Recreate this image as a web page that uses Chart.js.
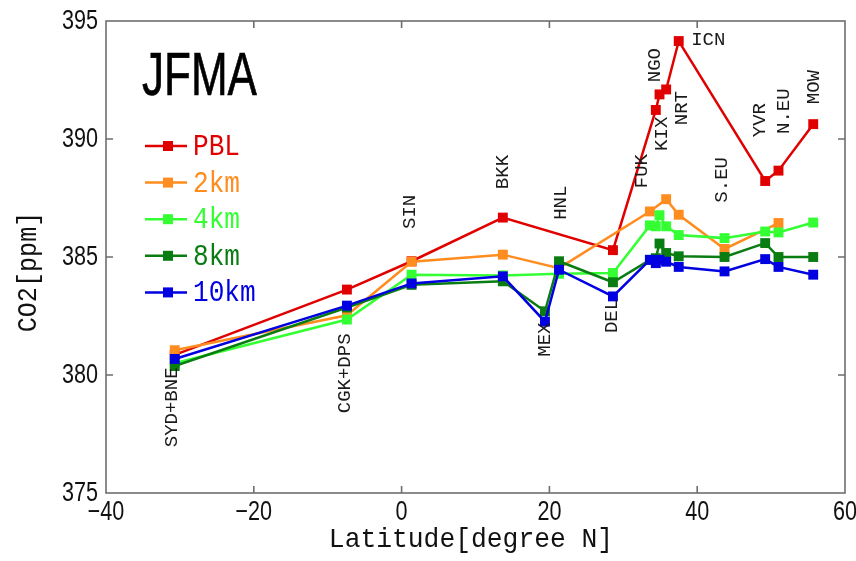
<!DOCTYPE html>
<html>
<head>
<meta charset="utf-8">
<script src="https://cdn.jsdelivr.net/npm/chart.js@4/dist/chart.umd.min.js"></script>
<style>
  html, body { margin: 0; padding: 0; background: #fff; }
  #wrap { width: 856px; height: 561px; }
</style>
</head>
<body>
<div id="wrap"><canvas id="co2Chart" width="856" height="561"></canvas></div>
<script>
// sampling sites and their latitude (deg N)
const stations = ['SYD+BNE', 'CGK+DPS', 'SIN', 'BKK', 'MEX', 'HNL', 'DEL', 'FUK', 'KIX', 'NGO', 'NRT', 'ICN', 'S.EU', 'YVR', 'N.EU', 'MOW'];
const latitudes = [-30.7, -7.4, 1.35, 13.7, 19.4, 21.3, 28.6, 33.6, 34.4, 34.9, 35.8, 37.5, 43.7, 49.2, 51.0, 55.7];

// mean CO2 [ppm] per altitude band, null where no data
const pbl   = [380.85, 383.62, 384.82, 386.67, null, null, 385.29, null, 391.23, 391.89, 392.1, 394.15, null, 388.22, 388.66, 390.63];
const km2   = [381.05, 382.53, 384.8, 385.1, null, 384.53, null, 386.93, null, null, 387.45, 386.79, 385.34, null, 386.44, null];
const km4   = [380.5, 382.35, 384.25, 384.22, null, 384.29, 384.32, 386.34, 386.3, 386.77, 386.3, 385.93, 385.8, 386.08, 386.04, 386.46];
const km8   = [380.38, 382.86, 383.82, 383.97, 382.7, 384.82, 383.93, 384.88, 384.95, 385.57, 385.17, 385.03, 385.0, 385.59, 385.0, 385.0];
const km10  = [380.68, 382.94, 383.88, 384.18, 382.26, 384.46, 383.33, 384.88, 384.74, 384.88, 384.8, 384.58, 384.39, 384.91, 384.58, 384.25];

const seriesNames = ['PBL', '2km', '4km', '8km', '10km'];
const xTicks = [-40, -20, 0, 20, 40, 60];
const xTickLabels = ['\u221240', '\u221220', '0', '20', '40', '60'];
const yTicks = [375, 380, 385, 390, 395];
const yTickLabels = ['375', '380', '385', '390', '395'];

// where each site name sits (lat, ppm) and whether it is turned upright
const labelAt = {
  'SYD+BNE': [-31.1, 378.63, true], 'CGK+DPS': [-7.66, 380.07, true], 'SIN': [1.14, 386.91, true],
  'BKK': [13.72, 388.6, true], 'MEX': [19.4, 381.5, true], 'HNL': [21.57, 387.3, true],
  'DEL': [28.47, 382.5, true], 'FUK': [32.5, 388.64, true], 'KIX': [35.2, 390.22, true],
  'NGO': [34.3, 393.13, true], 'NRT': [37.9, 391.31, true], 'ICN': [41.5, 394.18, false],
  'S.EU': [43.4, 388.27, true], 'YVR': [48.5, 390.8, true], 'N.EU': [51.7, 391.18, true],
  'MOW': [55.8, 392.2, true]
};

const colors = ['#e00000', '#ff8c1e', '#33ff33', '#0a7d12', '#0000e0'];

function points(vals) {
  return latitudes.map((x, i) => ({ x, y: vals[i] })).filter(p => p.y !== null);
}

function drawText(ctx, str, x, y, o) {
  ctx.save();
  ctx.translate(x, y);
  if (o.rotate) ctx.rotate(o.rotate);
  ctx.scale(o.sx || 1, 1);
  ctx.font = o.font;
  ctx.fillStyle = o.color || '#111';
  ctx.textAlign = o.align || 'center';
  ctx.textBaseline = o.baseline || 'middle';
  ctx.fillText(str, 0, 0);
  if (o.stroke) {
    ctx.strokeStyle = o.color || '#111';
    ctx.lineWidth = o.stroke;
    ctx.strokeText(str, 0, 0);
  }
  ctx.restore();
}

// frame with inward ticks, tick labels, axis titles, site names, legend, season tag
const decorations = {
  id: 'decorations',
  afterDatasetsDraw(chart) {
    const { ctx, chartArea: a, scales: { x, y } } = chart;
    const mono = '"Liberation Mono", "DejaVu Sans Mono", monospace';

    ctx.save();
    ctx.strokeStyle = '#6e6e6e';
    ctx.lineWidth = 1.6;
    ctx.strokeRect(a.left, a.top, a.right - a.left, a.bottom - a.top);
    ctx.beginPath();
    xTicks.slice(1, -1).forEach(v => {
      const px = x.getPixelForValue(v);
      ctx.moveTo(px, a.bottom); ctx.lineTo(px, a.bottom - 7);
      ctx.moveTo(px, a.top); ctx.lineTo(px, a.top + 7);
    });
    yTicks.slice(1, -1).forEach(v => {
      const py = y.getPixelForValue(v);
      ctx.moveTo(a.left, py); ctx.lineTo(a.left + 7, py);
      ctx.moveTo(a.right, py); ctx.lineTo(a.right - 7, py);
    });
    ctx.stroke();
    ctx.restore();

    const tickFont = '27px "Liberation Sans", Arial, sans-serif';
    xTicks.forEach((v, i) => {
      drawText(ctx, xTickLabels[i], x.getPixelForValue(v), a.bottom + 20, { font: tickFont, sx: 0.8 });
    });
    yTicks.forEach((v, i) => {
      drawText(ctx, yTickLabels[i], a.left - 8, y.getPixelForValue(v) + 1, { font: tickFont, sx: 0.8, align: 'right' });
    });

    drawText(ctx, 'Latitude[degree N]', 471, 540, { font: '28px ' + mono, sx: 0.94 });
    drawText(ctx, 'CO2[ppm]', 29, 272, { font: '27px ' + mono, sx: 0.93, rotate: -Math.PI / 2 });

    stations.forEach(s => {
      const [lx, ly, upright] = labelAt[s];
      const px = x.getPixelForValue(lx), py = y.getPixelForValue(ly);
      drawText(ctx, s, px, py, { font: '19px ' + mono, color: '#1a1a1a', rotate: upright ? -Math.PI / 2 : 0 });
    });

    drawText(ctx, 'JFMA', 142, 95, { font: '62px "Liberation Sans", Arial, sans-serif', sx: 0.71, stroke: 0.7, align: 'left', baseline: 'alphabetic', color: '#000' });

    seriesNames.forEach((name, i) => {
      const ly = 146 + i * 36.6;
      ctx.save();
      ctx.strokeStyle = colors[i];
      ctx.fillStyle = colors[i];
      ctx.lineWidth = 2.5;
      ctx.beginPath();
      ctx.moveTo(145, ly); ctx.lineTo(187, ly);
      ctx.stroke();
      ctx.fillRect(163, ly - 5, 10, 10);
      ctx.restore();
      drawText(ctx, name, 193, ly + 1, { font: '30px ' + mono, sx: 0.87, color: colors[i], align: 'left' });
    });
  }
};

const seriesValues = [pbl, km2, km4, km8, km10];

new Chart(document.getElementById('co2Chart'), {
  type: 'line',
  data: {
    datasets: seriesValues.map((vals, i) => ({
      label: seriesNames[i],
      data: points(vals),
      borderColor: colors[i],
      backgroundColor: colors[i],
      pointBackgroundColor: colors[i],
      pointBorderWidth: 0,
      pointStyle: 'rect',
      pointRadius: 7,
      borderWidth: 2.5,
      tension: 0,
      order: seriesNames.length - i
    }))
  },
  options: {
    responsive: false,
    animation: false,
    layout: { padding: { left: 106, right: 11, top: 21, bottom: 68 } },
    scales: {
      x: { type: 'linear', min: -40, max: 60, display: false },
      y: { type: 'linear', min: 375, max: 395, display: false }
    },
    plugins: {
      legend: { display: false },
      tooltip: { enabled: false }
    }
  },
  plugins: [decorations]
});
</script>
</body>
</html>
